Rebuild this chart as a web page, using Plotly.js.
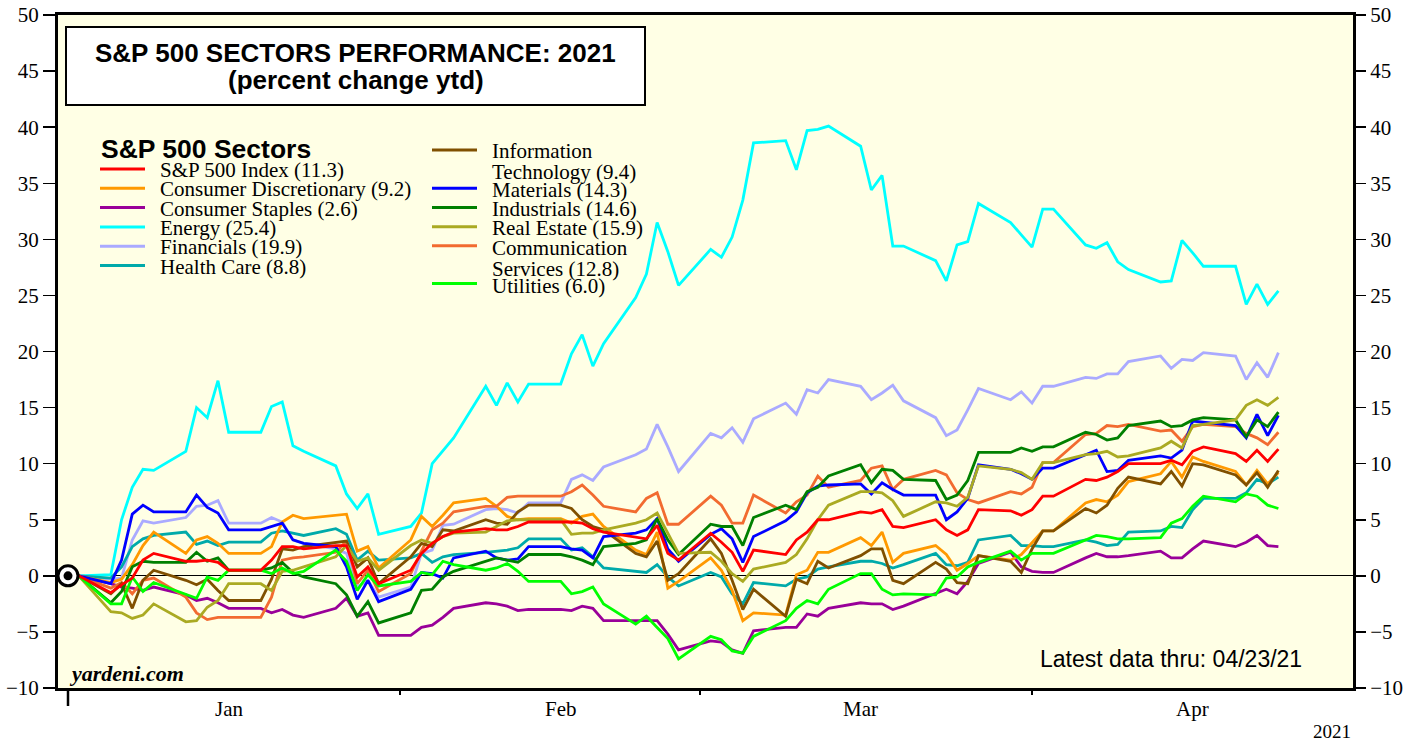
<!DOCTYPE html>
<html>
<head>
<meta charset="utf-8">
<script src="https://cdn.plot.ly/plotly-3.0.1.min.js"></script>
<style>
html,body{margin:0;padding:0;background:#ffffff;}
#chart{width:1419px;height:742px;}
</style>
</head>
<body>
<div id="chart"></div>
<script>
// ---------------- DATA (percent change ytd, weekday series) ----------------
const dates = ['2020-12-31','2021-01-01',
'2021-01-04','2021-01-05','2021-01-06','2021-01-07','2021-01-08',
'2021-01-11','2021-01-12','2021-01-13','2021-01-14','2021-01-15',
'2021-01-18','2021-01-19','2021-01-20','2021-01-21','2021-01-22',
'2021-01-25','2021-01-26','2021-01-27','2021-01-28','2021-01-29',
'2021-02-01','2021-02-02','2021-02-03','2021-02-04','2021-02-05',
'2021-02-08','2021-02-09','2021-02-10','2021-02-11','2021-02-12',
'2021-02-15','2021-02-16','2021-02-17','2021-02-18','2021-02-19',
'2021-02-22','2021-02-23','2021-02-24','2021-02-25','2021-02-26',
'2021-03-01','2021-03-02','2021-03-03','2021-03-04','2021-03-05',
'2021-03-08','2021-03-09','2021-03-10','2021-03-11','2021-03-12',
'2021-03-15','2021-03-16','2021-03-17','2021-03-18','2021-03-19',
'2021-03-22','2021-03-23','2021-03-24','2021-03-25','2021-03-26',
'2021-03-29','2021-03-30','2021-03-31','2021-04-01','2021-04-02',
'2021-04-05','2021-04-06','2021-04-07','2021-04-08','2021-04-09',
'2021-04-12','2021-04-13','2021-04-14','2021-04-15','2021-04-16',
'2021-04-19','2021-04-20','2021-04-21','2021-04-22','2021-04-23'];

const sp500 = [0,0,
 -1.5,-0.8,-0.2,1.4,2.0,
 1.3,1.3,1.4,1.2,0.5,
 0.5,1.4,2.6,2.6,2.4,
 2.7,2.7,-0.1,0.8,-0.7,
 0.5,2.0,2.9,3.5,3.9,
 4.2,4.1,4.1,4.4,4.8,
 4.8,4.8,4.7,4.2,3.9,
 3.4,3.3,4.5,2.0,1.4,
 3.8,3.0,2.1,0.4,2.3,
 1.9,3.2,3.9,5.0,5.0,
 5.7,5.6,5.9,4.4,4.3,
 5.0,4.1,3.6,4.1,5.9,
 5.8,5.4,5.9,7.1,7.1,
 8.6,8.5,8.8,9.3,10.0,
 10.0,10.3,9.9,11.1,11.5,
 10.9,10.2,11.2,10.2,11.3];

const consumerDiscretionary = [0,0,
 -0.6,-0.3,1.0,2.7,3.9,
 2.0,3.2,3.5,2.9,2.0,
 2.0,2.6,4.8,5.4,5.1,
 5.4,5.5,2.2,2.6,0.7,
 3.2,5.3,4.4,5.4,6.5,
 6.9,6.2,5.3,5.0,5.1,
 5.1,4.7,5.3,5.5,4.4,
 2.3,1.9,3.9,-1.1,-0.5,
 1.6,0.5,-1.3,-4.0,-3.3,
 -3.5,0.1,0.5,2.1,2.1,
 3.4,2.7,3.9,1.2,2.0,
 2.7,1.9,0.5,1.1,1.8,
 1.4,1.9,3.0,4.0,4.0,
 6.5,6.8,6.6,7.2,8.4,
 9.1,10.2,8.8,10.6,10.2,
 9.3,8.1,9.4,8.2,9.2];

const consumerStaples = [0,0,
 -0.7,-1.0,-1.1,-1.3,-1.0,
 -1.7,-2.2,-2.0,-2.4,-2.9,
 -2.9,-3.3,-3.0,-3.5,-3.7,
 -2.9,-2.0,-3.6,-3.3,-5.3,
 -5.3,-4.6,-4.4,-3.7,-2.9,
 -2.4,-2.5,-2.7,-3.1,-3.0,
 -3.0,-3.1,-2.7,-2.9,-4.0,
 -4.0,-4.0,-4.0,-5.2,-6.6,
 -5.8,-5.9,-6.6,-6.9,-4.9,
 -4.6,-4.6,-3.4,-3.6,-2.9,
 -2.4,-2.5,-2.5,-3.0,-2.7,
 -1.6,-1.2,-1.6,-0.5,1.1,
 2.1,0.8,0.4,0.3,0.3,
 1.6,2.0,1.7,1.7,1.8,
 2.2,1.6,1.6,2.4,3.1,
 2.6,3.0,3.6,2.7,2.6];

const energy = [0,0,
 0.1,5.0,7.9,9.5,9.4,
 11.1,15.0,14.1,17.4,12.8,
 12.8,15.1,15.5,11.6,11.1,
 9.8,7.3,6.0,7.3,3.7,
 4.4,5.6,10.0,11.1,12.3,
 16.9,15.2,17.2,15.5,17.1,
 17.1,19.8,21.5,18.7,20.7,
 24.8,26.9,31.5,28.9,25.9,
 29.1,28.4,30.2,33.5,38.6,
 38.8,36.2,39.7,39.8,40.1,
 38.3,34.4,35.7,29.4,29.4,
 28.1,26.3,29.5,29.8,33.2,
 31.5,30.4,29.3,32.7,32.7,
 29.5,29.2,29.7,28.0,27.3,
 26.2,26.3,29.9,28.8,27.6,
 27.6,24.2,26.0,24.2,25.4];

const financials = [0,0,
 -0.3,-0.2,3.2,4.9,4.7,
 5.2,6.2,6.3,6.7,4.7,
 4.7,5.2,4.8,3.2,2.9,
 2.4,2.0,-1.0,-0.4,-1.9,
 -1.0,2.0,2.3,4.5,4.6,
 5.9,6.0,5.9,5.6,6.5,
 6.5,8.6,9.0,8.5,9.7,
 10.8,11.3,13.5,11.5,9.3,
 12.7,12.3,13.2,11.9,14.0,
 15.4,14.4,16.6,16.3,17.5,
 16.9,15.7,16.3,17.0,15.6,
 14.1,12.5,13.0,14.8,16.7,
 15.7,16.4,15.4,16.9,16.9,
 17.7,17.6,18.0,18.0,19.1,
 19.6,18.5,19.3,19.2,19.9,
 19.6,17.5,19.0,17.7,19.9];

const healthCare = [0,0,
 -0.2,0.8,2.6,3.3,3.6,
 3.9,2.8,3.1,2.7,3.0,
 3.0,3.8,4.0,3.8,3.6,
 4.2,3.7,1.4,2.2,1.4,
 1.6,2.0,1.2,1.7,1.9,
 2.1,2.2,2.3,2.5,3.3,
 3.3,2.3,2.5,1.7,0.7,
 0.4,0.3,1.0,-0.1,-0.9,
 0.3,-0.1,-1.6,-2.5,-0.6,
 -0.9,-0.3,-0.1,0.6,0.8,
 1.3,1.3,1.1,0.7,1.0,
 2.0,1.0,0.9,1.2,3.2,
 3.6,2.7,2.7,2.6,2.6,
 3.2,3.0,2.7,2.8,3.9,
 4.0,4.4,4.3,5.9,6.9,
 6.9,7.4,8.6,8.2,8.8];

const informationTechnology = [0,0,
 -1.6,-0.7,-2.9,-0.4,0.5,
 -0.4,-0.8,-0.3,-1.3,-2.2,
 -2.2,-0.3,2.4,2.3,2.6,
 3.0,3.1,0.8,1.6,-0.7,
 1.7,2.9,2.6,4.1,4.0,
 5.0,4.7,4.6,5.7,6.3,
 6.3,6.0,5.0,4.4,4.1,
 2.0,1.7,3.1,-0.4,0.2,
 3.3,2.0,-0.4,-3.0,-1.2,
 -3.6,-0.3,-0.7,1.3,0.7,
 1.8,2.4,2.4,-0.4,-0.7,
 1.2,0.6,-0.6,-0.7,1.8,
 1.3,0.3,2.4,4.0,4.0,
 6.0,5.6,6.3,7.8,8.8,
 8.2,9.3,8.0,10.0,9.9,
 9.0,8.1,9.2,7.9,9.4];

const materials = [0,0,
 -0.7,1.4,5.5,6.3,5.7,
 5.7,7.2,6.1,5.6,4.1,
 4.1,4.4,4.7,3.2,2.9,
 2.6,0.8,-2.1,-0.4,-2.3,
 -1.2,0.3,0.2,-0.2,1.6,
 2.2,1.6,1.4,1.5,2.6,
 2.6,2.4,2.3,1.6,3.5,
 3.8,4.1,5.1,2.4,1.3,
 3.7,4.2,3.3,1.2,3.5,
 4.9,5.7,7.4,8.0,8.1,
 8.2,7.3,8.3,7.7,7.2,
 7.2,5.0,5.7,6.9,9.9,
 9.5,9.1,8.6,9.6,9.6,
 10.8,11.2,9.3,9.4,10.3,
 10.7,10.5,11.2,13.8,13.7,
 13.4,12.3,14.4,12.5,14.3];

const industrials = [0,0,
 -2.4,-1.4,0.8,1.3,1.2,
 1.2,2.1,1.3,1.6,0.5,
 0.5,0.7,1.2,0.3,-0.1,
 -0.7,-1.7,-3.6,-2.3,-4.2,
 -3.3,-1.3,-1.2,-0.1,0.4,
 1.3,1.6,1.4,1.2,1.9,
 1.9,1.7,1.4,1.0,2.6,
 2.9,3.2,5.1,3.2,1.9,
 4.6,4.4,4.4,2.7,5.2,
 6.3,5.9,7.5,7.9,8.9,
 9.9,8.3,9.5,9.4,8.6,
 8.5,6.8,7.2,8.5,11.0,
 11.0,11.4,11.1,11.5,11.5,
 12.8,12.6,12.1,12.3,13.4,
 13.8,13.3,13.4,13.9,14.1,
 13.9,12.4,13.9,13.3,14.6];

const realEstate = [0,0,
 -3.2,-3.3,-3.8,-3.5,-2.5,
 -4.1,-4.0,-2.8,-2.2,-0.7,
 -0.7,-1.3,0.4,0.5,0.8,
 1.7,2.7,1.3,1.6,0.5,
 2.7,3.2,2.9,3.5,3.8,
 3.9,4.4,4.9,5.0,5.0,
 5.0,3.7,3.8,3.8,4.1,
 4.7,5.0,5.6,3.8,2.0,
 2.1,1.3,0.2,-0.5,0.6,
 1.2,1.9,3.3,5.0,6.3,
 7.5,7.5,7.4,6.7,5.3,
 6.6,6.5,6.2,7.0,9.8,
 9.5,9.2,8.6,10.1,10.1,
 10.8,10.9,11.1,10.6,10.7,
 11.4,12.0,11.4,13.4,13.5,
 13.9,15.2,15.7,15.2,15.9];

const communicationServices = [0,0,
 -1.1,-0.6,-1.6,-0.4,-0.2,
 -1.9,-3.3,-3.9,-3.7,-3.7,
 -3.7,-1.9,1.4,1.6,1.7,
 2.1,3.1,-0.7,0.5,-1.4,
 0.2,2.2,4.1,4.7,5.7,
 6.2,6.2,7.0,7.1,7.1,
 7.1,7.5,8.1,7.2,6.2,
 5.7,6.9,7.4,4.6,4.6,
 7.1,6.3,4.7,4.7,7.2,
 5.6,6.6,7.2,8.9,7.9,
 8.5,9.6,9.8,7.7,8.6,
 9.4,9.0,7.4,6.8,6.5,
 7.5,7.3,7.9,10.1,10.1,
 12.6,12.7,13.4,13.3,13.5,
 12.9,13.0,12.0,13.3,13.5,
 13.3,12.7,12.3,11.7,12.8];

const utilities = [0,0,
 -2.5,-2.5,-0.1,-1.4,-0.6,
 -1.6,-2.0,-0.1,-0.4,0.5,
 0.5,0.2,0.7,0.2,0.4,
 2.3,1.3,-1.3,0.1,-0.9,
 -0.5,0.3,0.1,1.3,1.0,
 0.5,0.7,1.1,0.4,-0.5,
 -0.5,-1.6,-1.4,-1.0,-2.5,
 -4.3,-3.6,-4.6,-5.6,-7.4,
 -5.4,-5.7,-6.7,-6.9,-5.4,
 -4.0,-2.9,-2.2,-2.5,-1.2,
 0.2,0.2,-1.2,-1.7,-1.6,
 -1.7,-0.2,-0.1,0.8,1.2,
 2.2,1.4,2.0,2.0,2.0,
 3.2,3.6,3.5,3.3,3.3,
 3.4,4.7,5.1,6.2,7.1,
 6.6,7.3,7.1,6.3,6.0];

// legend labels (as printed)
const leftLabels = ['S&P 500 Index (11.3)','Consumer Discretionary (9.2)','Consumer Staples (2.6)',
                    'Energy (25.4)','Financials (19.9)','Health Care (8.8)'];
const rightLabels = [['Information','Technology (9.4)'],['Materials (14.3)'],['Industrials (14.6)'],
                     ['Real Estate (15.9)'],['Communication','Services (12.8)'],['Utilities (6.0)']];
const monthLabels = ['Jan','Feb','Mar','Apr'];
const monthLabelDates = ['2021-01-15','2021-02-15','2021-03-15','2021-04-15'];
const monthEnds = ['2020-12-31','2021-01-31','2021-02-28','2021-03-31'];

// ---------------- STYLE ----------------
const C = {
  sp:'#FF0000', cd:'#FF9900', cs:'#990099', en:'#00FFFF', fi:'#AAAAFF', hc:'#00AAAA',
  it:'#805000', ma:'#0000FF', ind:'#008000', re:'#AAAA22', cm:'#F26B30', ut:'#00FF00'
};
const LW = 2.8;

const series = [
  {name:leftLabels[3], y:energy, c:C.en},
  {name:leftLabels[4], y:financials, c:C.fi},
  {name:leftLabels[5], y:healthCare, c:C.hc},
  {name:leftLabels[2], y:consumerStaples, c:C.cs},
  {name:leftLabels[1], y:consumerDiscretionary, c:C.cd},
  {name:'Communication Services (12.8)', y:communicationServices, c:C.cm},
  {name:'Information Technology (9.4)', y:informationTechnology, c:C.it},
  {name:rightLabels[1][0], y:materials, c:C.ma},
  {name:rightLabels[2][0], y:industrials, c:C.ind},
  {name:rightLabels[3][0], y:realEstate, c:C.re},
  {name:rightLabels[5][0], y:utilities, c:C.ut},
  {name:leftLabels[0], y:sp500, c:C.sp}
];

const traces = series.map(s => ({
  type:'scatter', mode:'lines', x:dates, y:s.y, name:s.name,
  line:{color:s.c, width:LW}, showlegend:false, hoverinfo:'x+y+name'
}));
// base-date marker (circle with dot) at first observation
traces.push({type:'scatter', mode:'markers', x:[dates[0]], y:[sp500[0]], yaxis:'y2',
  marker:{size:20, color:'#FFFFFF', line:{color:'#000', width:3}}, showlegend:false, hoverinfo:'skip'});
traces.push({type:'scatter', mode:'markers', x:[dates[0]], y:[sp500[0]], yaxis:'y2',
  marker:{size:9, color:'#000'}, showlegend:false, hoverinfo:'skip'});

// ---------------- LAYOUT ----------------
const L=58, R=1353, T=15, B=688;
const xp = px => (px-L)/(R-L);
const yp = py => (B-py)/(B-T);

const serif = 'Liberation Serif, Times New Roman, serif';
const sans = 'Liberation Sans, Arial, sans-serif';

const shapes = [];
const annotations = [];

// title box
shapes.push({type:'rect', xref:'paper', yref:'paper', x0:xp(66), x1:xp(645), y0:yp(105), y1:yp(27),
  line:{color:'#000', width:2}, fillcolor:'#FFFFFF', layer:'above'});
annotations.push({xref:'paper', yref:'paper', x:xp(355.5), y:yp(53), xanchor:'center', yanchor:'middle',
  text:'<b>S&P 500 SECTORS PERFORMANCE: 2021</b>', showarrow:false, font:{family:sans, size:26, color:'#000'}});
annotations.push({xref:'paper', yref:'paper', x:xp(355.5), y:yp(80), xanchor:'center', yanchor:'middle',
  text:'<b>(percent change ytd)</b>', showarrow:false, font:{family:sans, size:26, color:'#000'}});

// legend heading
annotations.push({xref:'paper', yref:'paper', x:xp(99), y:yp(149), xanchor:'left', yanchor:'middle',
  text:'<b>S&P 500 Sectors</b>', showarrow:false, font:{family:sans, size:26.5, color:'#000'}});

// left legend column
const leftColors = [C.sp, C.cd, C.cs, C.en, C.fi, C.hc];
const leftRows = [169, 188.3, 207.6, 226.9, 246.2, 265.5];
leftLabels.forEach((lab,i) => {
  shapes.push({type:'line', xref:'paper', yref:'paper', x0:xp(100), x1:xp(145), y0:yp(leftRows[i]), y1:yp(leftRows[i]),
    line:{color:leftColors[i], width:3}});
  annotations.push({xref:'paper', yref:'paper', x:xp(158), y:yp(leftRows[i]+1), xanchor:'left', yanchor:'middle',
    text:lab, showarrow:false, font:{family:serif, size:21, color:'#000'}});
});

// right legend column
const rightColors = [C.it, C.ma, C.ind, C.re, C.cm, C.ut];
const rightLineY = [150, 188.3, 207.6, 226.7, 245.7, 283.5];
const rightTextY = [[150, 171.5], [189], [208], [227], [246.5, 268], [285]];
rightLabels.forEach((labs,i) => {
  shapes.push({type:'line', xref:'paper', yref:'paper', x0:xp(432), x1:xp(477), y0:yp(rightLineY[i]), y1:yp(rightLineY[i]),
    line:{color:rightColors[i], width:3}});
  labs.forEach((lab,j) => {
    annotations.push({xref:'paper', yref:'paper', x:xp(490), y:yp(rightTextY[i][j]+1), xanchor:'left', yanchor:'middle',
      text:lab, showarrow:false, font:{family:serif, size:21, color:'#000'}});
  });
});

// source + date note
annotations.push({xref:'paper', yref:'paper', x:xp(67), y:yp(673), xanchor:'left', yanchor:'middle',
  text:'<b><i>yardeni.com</i></b>', showarrow:false, font:{family:serif, size:22, color:'#000'}});
annotations.push({xref:'paper', yref:'paper', x:xp(1038), y:yp(659), xanchor:'left', yanchor:'middle',
  text:'Latest data thru: 04/23/21', showarrow:false, font:{family:sans, size:23, color:'#000'}});

// month labels and year
monthLabels.forEach((m,i) => {
  annotations.push({xref:'x', yref:'paper', x:monthLabelDates[i], y:yp(709), xanchor:'center', yanchor:'middle',
    text:m, showarrow:false, font:{family:serif, size:21, color:'#000'}});
});
annotations.push({xref:'paper', yref:'paper', x:xp(1332), y:yp(731), xanchor:'center', yanchor:'middle',
  text:'2021', showarrow:false, font:{family:serif, size:19, color:'#000'}});

// long tick at start of year
shapes.push({type:'line', xref:'x', yref:'paper', x0:monthEnds[0], x1:monthEnds[0], y0:0, y1:yp(706),
  line:{color:'#000', width:2.5}});

const yTickFont = {family:serif, size:21, color:'#000'};

const layout = {
  width:1419, height:742,
  margin:{l:L, r:1419-R, t:T, b:742-B, pad:0},
  paper_bgcolor:'#FFFFFF',
  plot_bgcolor:'#FFFFE5',
  showlegend:false,
  xaxis:{
    type:'date',
    range:['2020-12-30 01:35','2021-04-29 23:11'],
    showgrid:false, zeroline:false,
    showline:true, linecolor:'#000', linewidth:3, mirror:true,
    ticks:'outside', ticklen:4, tickwidth:2, tickcolor:'#000',
    tickmode:'array', tickvals:monthEnds, ticktext:monthEnds.map(()=>''),
    fixedrange:true
  },
  yaxis:{
    range:[-10,50], tickmode:'linear', tick0:0, dtick:5,
    showgrid:false,
    zeroline:true, zerolinecolor:'#000', zerolinewidth:1,
    showline:true, linecolor:'#000', linewidth:3, mirror:true,
    ticks:'outside', ticklen:12, tickwidth:1.5, tickcolor:'#000',
    tickfont:yTickFont, fixedrange:true
  },
  yaxis2:{
    overlaying:'y', side:'right',
    range:[-10,50], tickmode:'linear', tick0:0, dtick:5,
    showgrid:false, zeroline:false, showline:false,
    ticks:'outside', ticklen:12, tickwidth:1.5, tickcolor:'#000',
    tickfont:yTickFont, fixedrange:true
  },
  shapes:shapes,
  annotations:annotations
};

Plotly.newPlot('chart', traces, layout, {displayModeBar:false, staticPlot:true});
</script>
</body>
</html>
